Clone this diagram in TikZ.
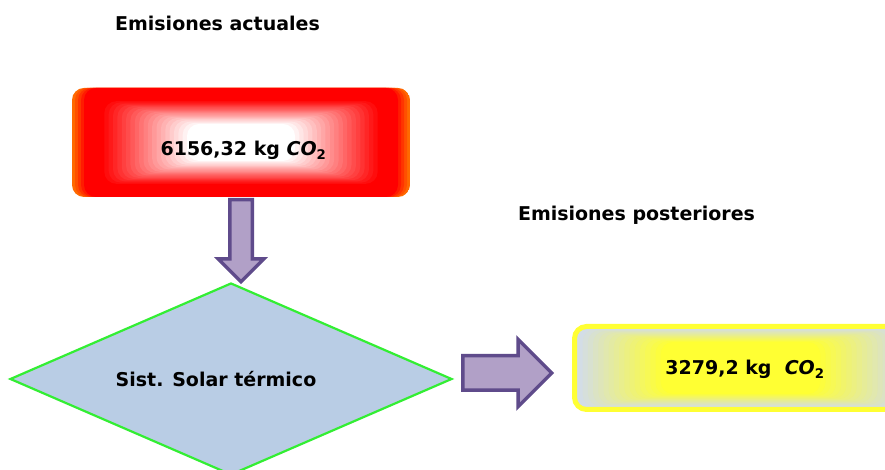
\documentclass[tikz,border=0pt]{standalone}
\usepackage{fontspec}
\setmainfont{DejaVu Sans}
\usetikzlibrary{shapes.geometric,shapes.arrows,calc}

\definecolor{arrowfill}{HTML}{B1A0C7}
\definecolor{arrowline}{HTML}{5F4B8B}
\definecolor{diafill}{HTML}{B9CDE5}
\definecolor{diagreen}{HTML}{33EE33}
\definecolor{boxred}{HTML}{FF0000}
\definecolor{boxorange}{HTML}{FF6A00}
\definecolor{boxyellow}{HTML}{FFFF33}
\definecolor{boxgray}{HTML}{D3DDE6}

\begin{document}
\begin{tikzpicture}[x=1pt, y=1pt,
    txt/.style={font=\fontsize{19}{22}\selectfont\bfseries, anchor=base, inner sep=0},
    blockarrow/.style={single arrow, draw=arrowline, fill=arrowfill, line width=3.5pt,
      inner xsep=0, anchor=tail}]
  \clip (0,0) rectangle (885,470);
  \fill[white] (0,0) rectangle (885,470);

  % emisiones actuales
  \node[txt] (title1) at (217.5,439) {Emisiones actuales};
  \node[rounded corners=12pt, minimum width=338, minimum height=109, inner sep=0,
    path picture={
      \fill[boxorange] (path picture bounding box.south west) rectangle (path picture bounding box.north east);
      \foreach \j in {1,...,4}
        \fill[boxred!\the\numexpr25*\j\relax!boxorange] ($(path picture bounding box.south west)+(3*\j,0)$)
          rectangle ($(path picture bounding box.north east)-(3*\j,0)$);
      \foreach \i [evaluate=\i as \p using {100-5*\i}] in {0,...,20}
        \fill[boxred!\p!white] ($(path picture bounding box.south west)+(28+4.35*\i,12+1.2*\i)$)
          rectangle ($(path picture bounding box.north east)-(28+4.35*\i,12+1.2*\i)$);
    }] (actual) at (241,327.5) {};
  \node[txt] (actualtxt) at (243.5,314) {6156,32 kg \textit{CO}\textsubscript{2}};

  % sistema
  \node[blockarrow, minimum height=82, inner ysep=9.5, single arrow head extend=11.5,
    rotate=-90] (down) at (241,272) {};
  \node[diamond, draw=diagreen, fill=diafill, line width=2.2pt, minimum width=442,
    minimum height=192, inner sep=0] (solar) at (231,91) {};
  \node[txt] (solartxt) at (216,83) {Sist. Solar térmico};
  \node[blockarrow, minimum height=89, inner ysep=15.5, single arrow head extend=16.5]
    (right) at (461,97) {};

  % emisiones posteriores
  \node[txt] (title2) at (636.5,249) {Emisiones posteriores};
  \node[rounded corners=12pt, draw=boxyellow, line width=5pt, minimum width=332,
    minimum height=83, inner sep=0,
    path picture={
      \fill[boxgray] (path picture bounding box.south west) rectangle (path picture bounding box.north east);
      \foreach \i [evaluate=\i as \p using {100*\i/16}] in {0,...,16}
        \fill[boxyellow!\p!boxgray] ($(path picture bounding box.south west)+(3+5.2*\i,2+0.85*\i)$)
          rectangle ($(path picture bounding box.north east)-(3+5.2*\i,2+0.85*\i)$);
    }] (poster) at (740.5,102) {};
  \node[txt] (postertxt) at (745,95) {3279,2 kg~~\textit{CO}\textsubscript{2}};
\end{tikzpicture}
\end{document}
